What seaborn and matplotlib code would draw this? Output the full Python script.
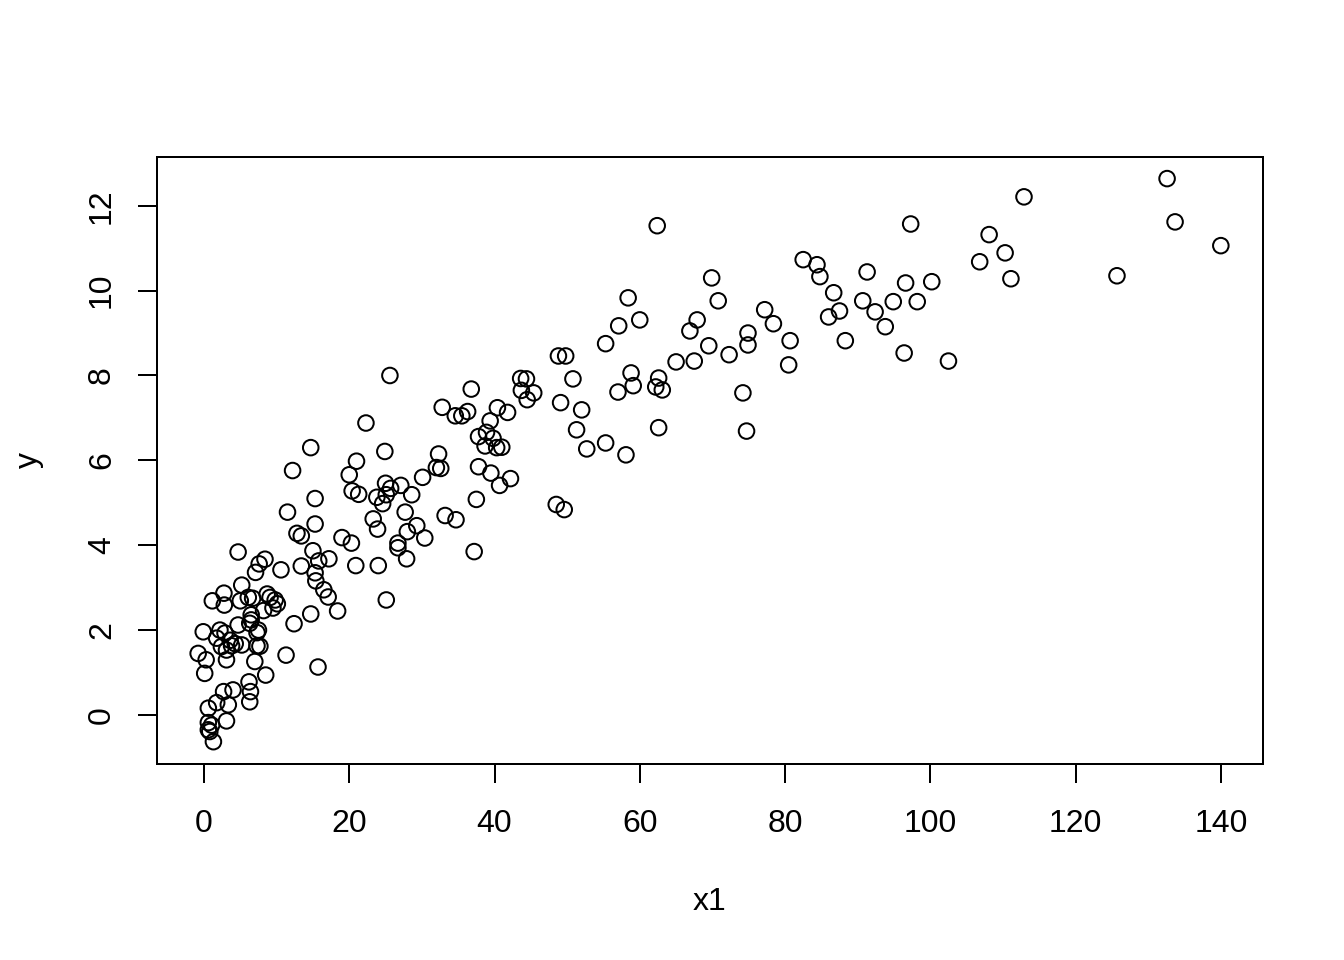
import numpy as np
import pandas as pd
import matplotlib
matplotlib.use("Agg")
import matplotlib.pyplot as plt
import seaborn as sns

# values
x1 = [
    132.6, 133.7, 140.0, 125.7, 112.9, 108.1, 110.3, 106.8, 111.1, 100.2,
    102.5, 97.3, 96.6, 94.9, 98.2, 96.4, 91.3, 90.7, 92.4, 93.8,
    82.5, 84.4, 84.8, 86.7, 87.5, 86.0, 88.3, 77.2, 78.4, 74.9,
    74.9, 80.7, 80.5, 74.2, 74.7, 69.9, 70.8, 69.5, 72.3, 67.9,
    66.9, 67.5, 65.0, 62.4, 58.4, 60.0, 57.1, 55.3, 58.8, 59.1,
    57.0, 62.6, 62.2, 63.1, 62.6, 55.3, 58.1, 48.8, 49.8, 50.8,
    45.4, 43.6, 44.4, 43.7, 44.5, 49.1, 52.0, 51.3, 52.7, 48.5,
    49.6,
    36.8, 32.8, 34.6, 35.5, 36.3, 40.4, 41.8, 39.4, 37.8, 38.9,
    39.8, 38.7, 40.3, 41.0, 32.3, 32.0, 32.6, 30.1, 37.8, 39.5,
    42.2, 40.7, 37.5, 33.2, 34.7, 37.2,
    25.6, 22.3, 14.7, 24.9, 12.2, 21.0, 20.0, 15.3, 20.4, 21.3,
    25.0, 25.7, 27.1, 23.8, 25.1, 24.6, 28.6, 11.5, 27.7, 15.3,
    23.3, 23.9, 29.3, 28.0, 12.8, 13.4, 19.0, 20.3, 26.7, 30.4,
    26.7, 27.9, 24.0, 20.9, 17.2, 15.8, 13.4, 15.0, 15.3, 15.4,
    16.5, 17.1, 14.7, 18.4, 12.4, 25.1, 15.7, 11.3, 10.6,
    4.7, 8.4, 7.6, 7.1, 5.2, 2.75, 1.15, 2.8, 5.0, 6.1,
    6.7, 8.7, 9.1, 9.8, 10.1, 9.5, 8.2, 6.5, 6.5, 6.3,
    7.5, 7.3, 4.7, -0.1, 2.2, 2.9, 1.75, 3.6, 2.4, 3.1,
    3.8, 4.3, 5.2, 7.3, 7.7, -0.8, 0.3, 0.1, 3.1, 7.0,
    8.5, 6.2, 6.4, 6.3, 4.0, 2.7, 1.75, 3.35, 0.6, 3.1,
    0.6, 1.05, 0.6, 0.8, 1.3,
]
y = [
    12.64, 11.62, 11.06, 10.35, 12.21, 11.32, 10.89, 10.68, 10.28, 10.21,
    8.34, 11.57, 10.18, 9.74, 9.74, 8.53, 10.44, 9.76, 9.50, 9.15,
    10.73, 10.61, 10.33, 9.95, 9.52, 9.38, 8.82, 9.55, 9.22, 9.00,
    8.72, 8.82, 8.25, 7.59, 6.69, 10.30, 9.76, 8.70, 8.49, 9.31,
    9.05, 8.34, 8.32, 11.53, 9.83, 9.31, 9.17, 8.75, 8.06, 7.76,
    7.61, 7.94, 7.73, 7.66, 6.77, 6.41, 6.13, 8.46, 8.46, 7.92,
    7.59, 7.93, 7.92, 7.65, 7.43, 7.36, 7.19, 6.72, 6.27, 4.96,
    4.84,
    7.68, 7.25, 7.05, 7.05, 7.15, 7.24, 7.13, 6.93, 6.56, 6.66,
    6.52, 6.34, 6.30, 6.31, 6.15, 5.83, 5.81, 5.60, 5.85, 5.70,
    5.57, 5.41, 5.08, 4.70, 4.60, 3.85,
    8.00, 6.88, 6.30, 6.21, 5.76, 5.98, 5.66, 5.10, 5.28, 5.20,
    5.46, 5.34, 5.41, 5.13, 5.19, 4.98, 5.19, 4.78, 4.78, 4.50,
    4.62, 4.38, 4.46, 4.32, 4.28, 4.22, 4.18, 4.05, 4.05, 4.17,
    3.94, 3.68, 3.52, 3.52, 3.68, 3.63, 3.51, 3.87, 3.35, 3.16,
    2.95, 2.78, 2.38, 2.45, 2.15, 2.71, 1.13, 1.41, 3.42,
    3.84, 3.67, 3.56, 3.36, 3.06, 2.87, 2.69, 2.59, 2.69, 2.77,
    2.75, 2.85, 2.77, 2.71, 2.62, 2.52, 2.46, 2.36, 2.24, 2.16,
    2.00, 1.94, 2.12, 1.96, 2.00, 1.93, 1.81, 1.76, 1.61, 1.53,
    1.63, 1.68, 1.65, 1.63, 1.62, 1.45, 1.30, 0.98, 1.30, 1.26,
    0.94, 0.78, 0.55, 0.31, 0.59, 0.55, 0.29, 0.24, 0.16, -0.14,
    -0.18, -0.24, -0.35, -0.39, -0.63,
]
x_ticks = [0, 20, 40, 60, 80, 100, 120, 140]
y_ticks = [0, 2, 4, 6, 8, 10, 12]

df = pd.DataFrame({"x1": x1, "y": y})

sns.set_theme(style="white")
plt.rcParams["font.family"] = ["Liberation Sans", "DejaVu Sans"]

fig = plt.figure(figsize=(7, 5), dpi=192)
ax = fig.add_axes([0.1168, 0.2042, 0.8229, 0.6323])

sns.scatterplot(data=df, x="x1", y="y", ax=ax, marker="o", s=34,
                facecolor="none", edgecolor="black", linewidth=0.75)

ax.set_xlim(-6.47, 145.8)
ax.set_ylim(-1.155, 13.15)
ax.set_xticks(x_ticks)
ax.set_yticks(y_ticks)
ax.set_xticklabels([str(t) for t in x_ticks])
ax.set_yticklabels([str(t) for t in y_ticks], rotation=90, va="center")

for s in ax.spines.values():
    s.set_color("black")
    s.set_linewidth(0.75)

ax.tick_params(axis="both", which="major", direction="out", length=7,
               width=0.75, color="black", labelsize=12, labelcolor="black",
               bottom=True, left=True)
ax.tick_params(axis="x", pad=10)
ax.tick_params(axis="y", pad=8)

ax.set_xlabel("x1", fontsize=12, color="black", labelpad=18)
ax.set_ylabel("y", fontsize=12, color="black", labelpad=16)

fig.savefig("out.png", dpi=192, facecolor="white")
